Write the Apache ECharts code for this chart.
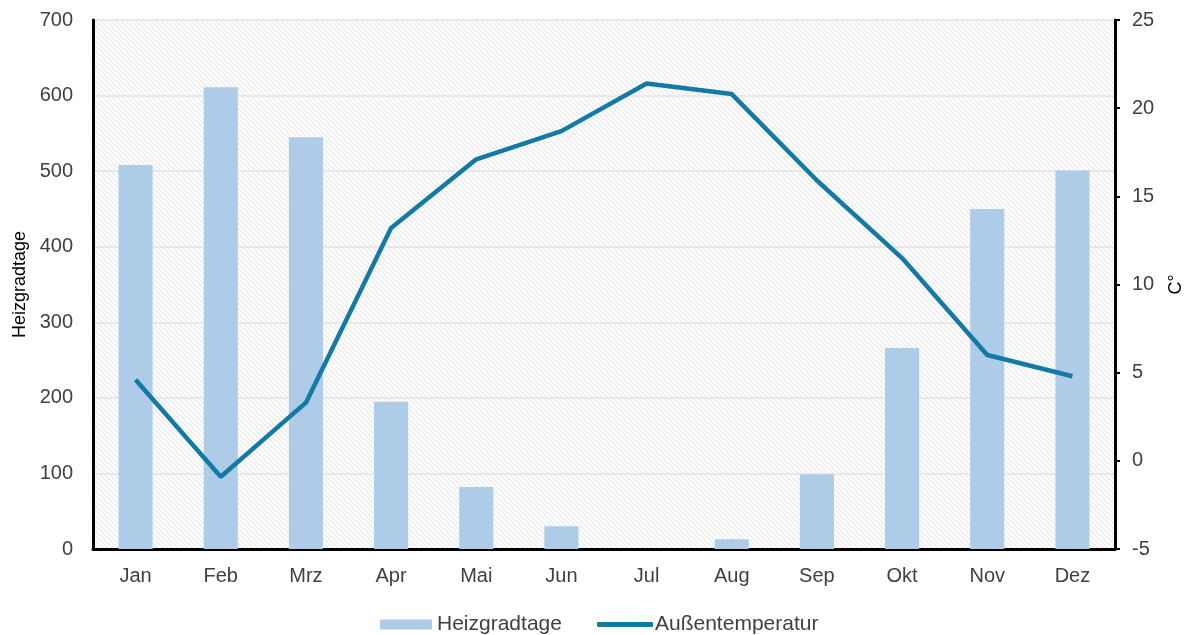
<!DOCTYPE html>
<html>
<head>
<meta charset="utf-8">
<script src="https://cdn.jsdelivr.net/npm/echarts@6/dist/echarts.min.js"></script>
<style>
  html, body { margin: 0; padding: 0; background: #fff; }
  #chart { width: 1194px; height: 635px; }
</style>
</head>
<body>
<div id="chart"></div>
<script>
// Daten
const months = ["Jan", "Feb", "Mrz", "Apr", "Mai", "Jun", "Jul", "Aug", "Sep", "Okt", "Nov", "Dez"];
const heizgradtage = [508, 611, 545, 195, 82, 30, 0, 13, 99, 266, 450, 501];
const aussentemperatur = [4.6, -0.9, 3.3, 13.2, 17.1, 18.7, 21.4, 20.8, 15.9, 11.5, 6.0, 4.8];

const barColor = "#aecbe8";
const lineColor = "#137aa5";
const fontFamily = "Liberation Sans, Arial, sans-serif";

// Schraffur für den Hintergrund
const makeHatch = () => {
  const s = 5;
  const c = document.createElement("canvas");
  c.width = s;
  c.height = s;
  const ctx = c.getContext("2d");
  ctx.fillStyle = "#ffffff";
  ctx.fillRect(0, 0, s, s);
  ctx.strokeStyle = "#ebebeb";
  ctx.lineWidth = 1.4;
  ctx.beginPath();
  ctx.moveTo(-1, -1);
  ctx.lineTo(s + 1, s + 1);
  ctx.moveTo(-1, s - 1);
  ctx.lineTo(1, s + 1);
  ctx.moveTo(s - 1, -1);
  ctx.lineTo(s + 1, 1);
  ctx.stroke();
  return c;
};

const chart = echarts.init(document.getElementById("chart"));
const labelFont = { color: "#404040", fontSize: 20, fontFamily: fontFamily };
const legendFont = { color: "#404040", fontSize: 21, fontFamily: fontFamily };
const nameFont = { color: "#000", fontSize: 18, fontFamily: fontFamily };

chart.setOption({
  animation: false,
  grid: {
    left: 93,
    right: 79,
    top: 20,
    bottom: 86,
    outerBoundsMode: "none",
    containLabel: false,
    show: true,
    backgroundColor: { image: makeHatch(), repeat: "repeat" },
    borderColor: "#000",
    borderWidth: 2,
  },
  legend: [
    {
      left: 375,
      top: 609,
      itemWidth: 52,
      itemHeight: 10,
      itemGap: 8,
      textStyle: legendFont,
      data: [{ name: "Heizgradtage", icon: "rect", itemStyle: { color: barColor } }],
    },
    {
      left: 592,
      top: 609,
      itemWidth: 56,
      itemHeight: 5,
      textStyle: { ...legendFont, padding: [0, 0, 0, -3] },
      data: [{ name: "Außentemperatur", icon: "roundRect", itemStyle: { color: lineColor } }],
    },
  ],
  xAxis: {
    type: "category",
    data: months,
    axisLine: { lineStyle: { color: "#000", width: 3 } },
    axisTick: { show: false },
    axisLabel: { ...labelFont, margin: 17 },
  },
  yAxis: [
    {
      type: "value",
      min: 0,
      max: 700,
      interval: 100,
      name: "Heizgradtage",
      nameLocation: "middle",
      nameGap: 63,
      nameRotate: 90,
      nameTextStyle: nameFont,
      axisLine: { show: true, lineStyle: { color: "#000", width: 3 } },
      axisTick: { show: false },
      axisLabel: { ...labelFont, margin: 20 },
      splitLine: { lineStyle: { color: "#e8e8e8", width: 2 } },
    },
    {
      type: "value",
      min: -5,
      max: 25,
      interval: 5,
      name: "C°",
      nameLocation: "middle",
      nameGap: 52,
      nameRotate: 90,
      nameTextStyle: nameFont,
      axisLine: { show: true, lineStyle: { color: "#000", width: 3 } },
      axisTick: { show: true, length: 5, lineStyle: { color: "#000", width: 2 } },
      axisLabel: { ...labelFont, margin: 17 },
      splitLine: { show: false },
    },
  ],
  series: [
    {
      name: "Heizgradtage",
      type: "bar",
      data: heizgradtage,
      barWidth: "40%",
      itemStyle: { color: barColor },
    },
    {
      name: "Außentemperatur",
      type: "line",
      yAxisIndex: 1,
      data: aussentemperatur,
      symbol: "none",
      lineStyle: { color: lineColor, width: 4.5 },
      itemStyle: { color: lineColor },
    },
  ],
});
</script>
</body>
</html>
